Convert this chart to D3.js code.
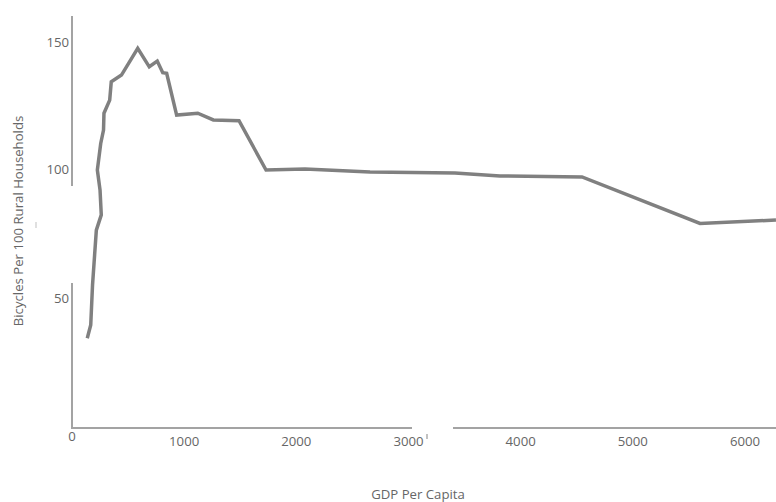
<!DOCTYPE html>
<html>
<head>
<meta charset="utf-8">
<script src="https://cdn.jsdelivr.net/npm/d3@7"></script>
<style>
  html, body { margin: 0; padding: 0; background: #fff; }
  svg { display: block; }
  text { font-family: "Open Sans", sans-serif; }
</style>
</head>
<body>
<svg id="chart" width="776" height="502"></svg>
<script>
// GDP per capita (x) and bicycles per 100 rural households (y)
const gdp = [136, 167, 183, 217, 261, 250, 226, 256, 281, 285, 336, 350, 441, 586, 689, 760, 809, 844, 933, 1121, 1260, 1489, 1730, 2077, 2657, 3414, 3816, 4547, 5599, 6276];
const bicycles = [34.8, 39.9, 55.4, 76.7, 82.6, 92.2, 100, 110.3, 115.5, 122, 127.1, 134.2, 136.8, 147.2, 140, 142.2, 137.7, 137.5, 121.3, 122, 119.4, 119.1, 100, 100.4, 99.2, 98.8, 97.7, 97.3, 79.3, 80.6];
const xTicks = [0, 1000, 2000, 3000, 4000, 5000, 6000];
const yTicks = [50, 100, 150];
const xTitle = "GDP Per Capita";
const yTitle = "Bicycles Per 100 Rural Households";

const svg = d3.select("#chart");
const x = d3.scaleLinear().domain([0, 6000]).range([72, 745]);
const y = d3.scaleLinear().domain([0, 150]).range([428, 41]);

const axisColor = "#a3a3a3";
const textColor = "#666";
const fs = 13.2;

// axis lines (broken, as in the reference)
const g = svg.append("g");
g.append("line").attr("x1", 72).attr("x2", 72).attr("y1", 16).attr("y2", 186)
  .attr("stroke", axisColor).attr("stroke-width", 2);
g.append("line").attr("x1", 72).attr("x2", 72).attr("y1", 283).attr("y2", 429)
  .attr("stroke", axisColor).attr("stroke-width", 2);
g.append("line").attr("x1", 71).attr("x2", 412).attr("y1", 428).attr("y2", 428)
  .attr("stroke", axisColor).attr("stroke-width", 2);
g.append("line").attr("x1", 453).attr("x2", 776).attr("y1", 428).attr("y2", 428)
  .attr("stroke", axisColor).attr("stroke-width", 2);
// small stray marks
g.append("line").attr("x1", 36).attr("x2", 36).attr("y1", 222).attr("y2", 228)
  .attr("stroke", "#ccc").attr("stroke-width", 1.2);
g.append("line").attr("x1", 427).attr("x2", 427).attr("y1", 434).attr("y2", 439)
  .attr("stroke", "#999").attr("stroke-width", 1.2);

// x tick labels
svg.append("g").selectAll("text").data(xTicks).join("text")
  .attr("x", d => x(d))
  .attr("y", d => d === 0 ? 441 : 446)
  .attr("text-anchor", "middle")
  .attr("font-size", fs)
  .attr("fill", textColor)
  .text(d => d);

// y tick labels
svg.append("g").selectAll("text").data(yTicks).join("text")
  .attr("x", 69)
  .attr("y", d => y(d) + (d === 150 ? 6 : 3.5))
  .attr("text-anchor", "end")
  .attr("font-size", fs)
  .attr("fill", textColor)
  .text(d => d);

// titles
svg.append("text").attr("x", 418).attr("y", 499)
  .attr("text-anchor", "middle").attr("font-size", fs).attr("fill", textColor)
  .text(xTitle);
svg.append("text")
  .attr("transform", "translate(23,221) rotate(-90)")
  .attr("text-anchor", "middle").attr("font-size", fs).attr("fill", textColor)
  .text(yTitle);

// data line
const pts = gdp.map((d, i) => [d, bicycles[i]]);
const line = d3.line().x(d => x(d[0])).y(d => y(d[1]));
svg.append("path").datum(pts)
  .attr("d", line)
  .attr("fill", "none")
  .attr("stroke", "#808080")
  .attr("stroke-width", 3.5)
  .attr("stroke-linejoin", "miter");
</script>
</body>
</html>
